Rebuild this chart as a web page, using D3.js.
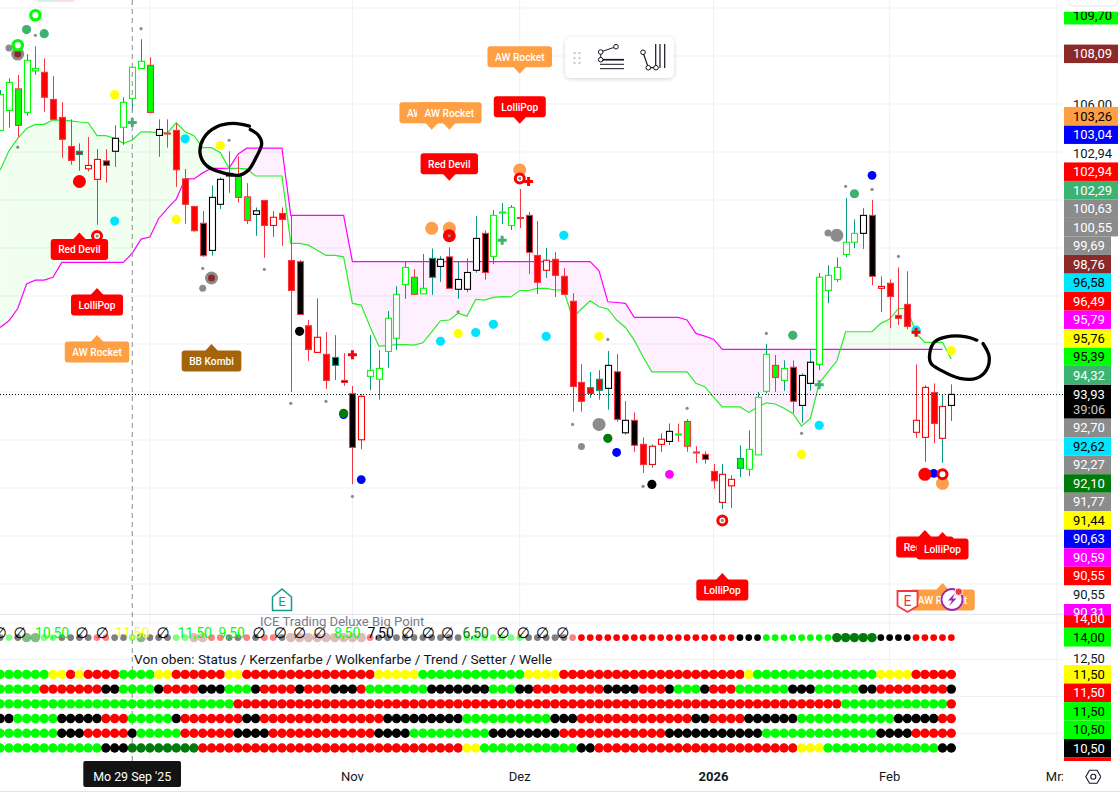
<!DOCTYPE html>
<html><head><meta charset="utf-8">
<script src="https://cdn.jsdelivr.net/npm/d3@7/dist/d3.min.js"></script>
<style>html,body{margin:0;padding:0;background:#fff}svg{display:block}text{font-family:Roboto,"Noto Sans",sans-serif}</style>
</head><body><div id="chart"></div>
<script>
// ---------- DATA ----------  bar number 0 = Mo 29 Sep '25, first visible bar = -15
const firstBar = -15;
const crosshairBar = 0;
// [high, body top, body bottom, low]
const candles = [
[106.58,106.40,104.90,104.90],[107.07,106.90,105.73,105.01],[107.21,106.63,105.11,104.63],[108.08,107.82,105.65,105.51],[108.41,107.48,107.38,107.22],
[107.90,107.32,106.28,105.68],[107.16,106.19,105.36,105.33],[106.08,105.44,104.53,103.76],[105.36,104.23,103.65,103.47],[104.36,104.03,103.90,103.22],
[104.62,103.44,103.30,103.19],[104.12,103.69,102.86,100.97],[104.12,103.63,103.44,102.72],[105.11,104.57,104.03,103.38],[106.28,106.07,105.03,104.30],
[107.53,107.53,106.23,105.71],[108.70,107.78,107.48,107.48],[107.95,107.61,105.65,105.61],[105.36,104.94,104.69,103.80],[105.36,104.79,104.76,104.18],
[105.19,104.90,103.26,102.55],[103.29,102.88,101.82,101.01],[101.73,101.73,100.72,100.68],[101.54,101.03,99.68,99.63],[102.61,102.11,99.90,99.68],
[102.94,102.86,101.82,101.63],[104.03,103.11,103.00,102.30],[103.82,103.00,102.11,101.89],[102.70,102.13,101.15,101.00],[101.69,101.55,101.40,100.51],
[101.98,101.98,100.94,99.59],[101.54,101.28,100.94,100.47],[101.69,101.44,101.19,100.09],[101.37,99.48,98.23,94.00],[99.50,99.43,97.23,97.20],
[97.00,96.76,95.77,95.30],[97.90,96.28,95.65,95.65],[96.50,95.57,94.48,94.13],[96.37,95.44,95.11,94.50],[95.62,94.48,94.40,94.26],
[94.25,93.93,91.69,90.16],[93.92,93.82,92.01,91.62],[96.37,94.90,94.65,94.08],[95.75,94.98,94.53,93.69],[97.37,97.07,95.69,95.01],
[98.41,98.07,96.24,95.75],[99.43,99.19,98.48,97.88],[99.12,98.78,98.07,98.07],[99.75,98.32,98.09,98.09],[99.98,99.57,98.78,98.05],
[99.66,99.53,99.23,98.59],[100.03,99.63,98.32,98.32],[99.43,98.69,98.28,97.88],[99.57,98.98,98.28,98.16],[101.33,100.40,99.07,98.97],
[100.73,100.61,98.98,98.68],[101.58,101.36,99.65,99.33],[101.87,101.50,101.47,101.00],[101.79,101.69,100.94,100.75],[102.46,101.27,101.25,100.83],
[101.50,101.36,99.82,98.91],[101.12,99.69,98.57,98.08],[100.00,99.49,99.07,98.75],[99.83,99.53,98.86,97.96],[99.16,98.82,98.07,98.07],
[98.12,97.78,94.23,93.18],[95.16,94.40,93.61,93.18],[94.83,94.18,93.94,93.76],[94.91,94.53,94.07,93.68],[95.71,95.11,94.15,93.26],
[95.58,94.84,92.86,92.76],[93.62,92.82,92.30,92.22],[93.15,92.82,91.78,91.51],[92.11,91.82,90.98,90.63],[91.82,91.74,90.98,90.84],
[92.28,92.03,91.82,91.50],[92.69,92.36,91.94,91.78],[92.68,92.25,92.22,91.93],[92.87,92.77,91.74,91.51],[91.74,91.50,91.47,91.04],
[91.53,91.40,91.19,91.01],[91.00,90.69,90.30,89.97],[91.00,90.57,89.40,89.13],[90.53,90.36,90.09,89.16],[91.78,91.23,90.82,90.46],
[92.40,91.61,90.78,90.50],[94.00,93.78,91.38,91.38],[96.00,95.57,94.03,93.94],[95.54,95.11,94.61,94.00],[95.32,94.98,94.48,94.05],
[95.32,95.03,93.61,93.12],[94.78,94.69,93.44,92.73],[95.75,95.24,94.36,94.05],[98.96,98.78,95.15,94.91],[99.28,98.86,98.23,97.70],
[99.61,99.19,98.69,98.58],[102.08,100.24,99.73,99.62],[101.19,100.61,100.24,100.00],[101.66,101.36,100.61,99.96],[102.00,101.36,98.82,98.45],
[98.82,98.40,98.32,97.33],[98.69,98.53,97.98,96.66],[99.19,97.19,97.07,96.79],[99.03,97.65,96.73,96.62],[95.15,92.82,92.32,92.09],
[94.28,94.19,92.11,91.09],[94.36,93.98,92.69,91.87],[93.90,93.40,92.07,91.05],[94.32,93.90,93.44,92.79]];
// fill / border / wick codes: W white, R red, L lime, K black, T teal
const candleColors = ("WLT WLT LRR WLT WLR RRR RRR RRR RRR RTT WRR WRT KRR WKT WLT WLT WLT LRR WKR RRR RRR RRR RRR KRR WKT WKT KKT LRR LRR WKT " +
"RRR WRT RRR RRR KRR RRR WRT RRR KTT KRR KRR WRT WLT WLT WLT WLT WLT LRR WLT KTT WKT KRR WKT WKT WKT KRR WLT LLT WLT RRR " +
"KRR RRR WRT RRR RRR RRR RRR RTT RTT WKT KRR WKR KRR RRR WRT WRT WKT LLR LRR RRR KRR RRR WRT WRR LTT WLT WLT WLT LRR WLT " +
"KRR WKT WKT WLT WLT WLT WLT WLT WKT KRR WRR RRR RRR RRR WRR WRT RRR WRT WKT").split(" ");

const cloudGreen = [103.25,104.05,104.57,104.98,105.15,105.15,105.33,105.33,105.30,105.25,105.22,104.68,104.68,104.57,104.36,104.50,104.84,104.84,104.80,104.80,
105.22,104.84,104.68,104.18,104.18,103.97,103.32,103.32,103.30,103.00,103.00,103.00,103.00,100.19,100.19,100.12,99.91,99.69,99.69,99.63,
97.69,97.62,96.72,95.91,95.93,95.98,95.97,95.95,96.05,96.51,96.97,97.00,97.28,97.16,97.86,97.83,97.94,97.97,97.96,98.23,
98.23,98.32,98.32,98.25,98.25,97.07,97.46,97.80,97.55,97.46,97.00,96.69,96.16,95.47,94.84,94.84,94.84,94.84,94.84,94.36,
94.22,93.79,93.38,93.38,93.38,93.15,93.37,93.55,93.50,93.32,93.11,92.58,92.90,94.36,94.84,95.29,96.51,96.51,96.51,96.51,
96.86,97.04,97.48,97.48,96.44,96.07,96.07,96.07,95.37];
const cloudMagenta = [96.69,96.97,97.48,98.50,98.66,98.66,98.78,99.40,99.40,99.40,99.40,99.40,99.40,99.40,99.40,99.78,100.37,100.46,101.23,101.65,
102.04,102.88,102.88,103.13,103.32,103.32,103.33,103.91,104.16,104.16,104.16,104.16,104.16,101.36,101.36,101.36,101.36,101.36,101.36,101.36,
99.43,99.43,99.43,99.43,99.43,99.43,99.43,99.43,99.43,99.43,99.43,99.43,99.43,99.43,99.43,99.43,99.43,99.43,99.43,99.43,
99.43,99.43,99.43,99.43,99.43,99.43,99.43,99.43,99.05,97.76,97.73,97.69,97.11,97.11,97.11,97.11,97.11,97.11,97.00,96.44,
96.33,96.20,95.78,95.78,95.78,95.78,95.78,95.78,95.78,95.78,95.78,95.78,95.78,95.78,95.78,95.78,95.78,95.78,95.78,95.78,
95.78,95.78,95.78,95.78,95.78,95.78,95.78,95.78];

const lastPrice = 93.93;
const priceGrid = [110,108,106,104,102,100,98,96,94,92,90,88,86];
const lowerGrid = [15,12.5,10,7.5];
const monthBars = [{bar:2,label:""},{bar:25,label:"Nov"},{bar:44,label:"Dez"},{bar:66,label:"2026",bold:true},{bar:86,label:"Feb"},{bar:105,label:"Mrz"}];

// Dot markers on the price pane: [bar, price]
const markYellow = [[-2,106.39],[10,104.27],[5,101.19],[37,96.44],[53,96.32],[76,91.40],[93,95.72]];
const markCyan = [[-2,101.12],[6,104.55],[35,96.11],[39,96.48],[41,96.82],[47,96.32],[49,100.53],[78,92.61],[89,96.58]];
const markSeaGreen = [[-12,109.10],[-10,108.93],[75,96.36],[82,102.26]];
const markDarkGreen = [[54,92.07],[24,93.11]];
const markBlue = [[24,93.06],[26,90.35],[55,91.48],[84,103.03],[91,90.61]];
const markBlack = [[19,96.53],[59,90.15]];
const markMagenta = [[61,90.57]];
const markRedBig = [[-6,102.77],[36,100.51],[90,90.57]];
const markOrange = [[34,100.82],[36,100.82],[44,103.25],[92,90.19]];
const markGrayBig = [[53,92.65],[80,100.53]];
const markGrayMid = [[-14,108.33],[8,98.32],[51,91.73],[79,100.62]];
const markGraySmall = [[-11,108.86],[-13,104.20],[1,109.14],[11,104.49],[8,99.15],[15,99.11],[18,93.53],[22,93.61],[25,89.65],[37,97.34],[54,96.19],[50,92.65],[58,90.07],[63,93.32],[72,96.44],[76,92.28],[81,102.57],[84,102.44],[87,99.65]];
const markLimeRing = [[-11,109.70],[-13,108.45]];
const markRedRing = [[-4,100.50],[44,102.90],[67,88.65],[92,90.57]];
const markRedRingCenter = [[-4,100.50],[44,102.90],[67,88.65],[36,100.51]];
const markBrownHalo = [[-13,108.08],[9,98.75]];
const crossRed = [[45,102.77],[25,95.55],[89,96.49]];
const crossGreen = [[0,105.23],[42,100.32],[78,94.30]];

// Tags: [text, bar, price of the tip, side, colour key]
const tags = [
["Red Devil",-6,100.65,"up","red"],["LolliPop",-4,98.33,"up","red"],["AW Rocket",-4,96.37,"up","orange"],["BB Kombi",9,96.00,"up","brown"],
["AW Rocket",44,107.26,"down","orange"],["LolliPop",44,105.18,"down","red"],["AW Rocket",34,104.93,"down","orange"],["AW Rocket",36,104.93,"down","orange"],
["Red Devil",36,102.80,"down","red"],["LolliPop",67,86.46,"up","red"],["Red Devil",90,88.25,"up","red"],["LolliPop",92,88.17,"up","red"],["AW Rocket",92,86.04,"up","orange"]];

// Lower pane: six rows of states, written as runs of colour code + count
const rowStatusTop = "K1 L1 K1 D2 L2 K4 R2 K2 L1 D1 K3 L2 B2 R2 K2 R1 K1 R2 K1 B9 R1 K10 L7 K5 R19 K3 L8 D5 K4 R5";
const rowValues = [11.5,10.5,9.5,8.5,7.5,6.5];
const rowRuns = [
"L6 Y2 R1 Y1 R4 L4 Y2 R6 Y2 R15 Y5 L12 Y4 R21 Y1 L14 Y4 R5",
"L5 R7 K2 L4 K1 R4 K3 L3 K1 R4 K1 R3 K3 R1 L7 K7 L3 K2 R8 K4 R3 K1 L3 K1 R3 L6 K3 L5 K2 R8 K1",
"L27 R69 L12 R1",
"K2 L5 K5 R3 L5 K1 R7 K2 R14 K9 L10 K3 R13 K2 R4 K6 L11 K5 R2",
"L7 K3 R5 K1 L5 R6 K4 R12 K4 L9 K8 R12 K11 L13 K4 R5",
"L12 K3 D8 R30 Y2 L11 K2 R23 Y3 L13 K2"];
const topRowFadeUntilBar = 50;
const topRowValue = 14;
// Texts sitting on the top row: [text, bar, colour key]
const topRowTexts = [["∅",-15,"K"],["∅",-12.75,"K"],["10,50",-9.1,"L"],["∅",-5.7,"K"],["∅",-3.4,"K"],["11,50",0,"Y"],["∅",3.5,"K"],["11,50",7.1,"L"],["9,50",11.3,"L"],
["∅",14.4,"K"],["∅",16.8,"K"],["∅",19,"K"],["∅",21.3,"K"],["8,50",24.4,"L"],["7,50",28.2,"K"],["∅",31.3,"K"],["∅",33.6,"K"],["∅",35.8,"K"],["6,50",39,"D"],["∅",42.1,"K"],["∅",44.4,"K"],["∅",46.6,"K"],["∅",48.9,"K"]];

// Price scale labels: [text, colour key]
const labelsAbove = [["94,32","sea"],["95,39","lime"],["95,76","yellow"],["95,79","magenta"],["96,49","red"],["96,58","cyan"],["98,76","brown2"],["99,69","gray"],["100,55","gray"],["100,63","gray"],["102,29","sea"],["102,94","red"],["102,94","plain"],["103,04","blue"],["103,26","orange"]];
const labelsBelow = [["92,70","gray"],["92,62","cyan"],["92,27","gray"],["92,10","dark"],["91,77","gray"],["91,44","yellow"],["90,63","blue"],["90,59","magenta"],["90,55","red"],["90,55","plain"],["90,31","magenta"]];
const labelsFree = [["109,70",109.70,"lime"],["108,09",108.09,"brown2"],["106,00",106,"plain"]];
const labelsLower = [["14,00","red"],["14,00","lime"],["12,50","plain"],["11,50","yellow"],["11,50","red"],["11,50","lime"],["10,50","lime"],["10,50","black"],["","red"]];
const countdown = "39:06";
const crossLabel = "Mo 29 Sep '25";
const legendRows = "Von oben: Status / Kerzenfarbe / Wolkenfarbe / Trend / Setter / Welle";
const indicatorName = "ICE Trading Deluxe Big Point";

// Freehand circles drawn on the chart: [bar, price]
const inkOne = [[13.3,105.08],[11.5,105.19],[9.6,105.05],[8.1,104.57],[7.7,103.94],[8.4,103.45],[9.95,103.17],[12.2,103.04],[13.2,103.25],[14.1,103.80],[14.7,104.36],[14.3,104.71],[13.4,104.94]];
const inkTwo = [[95.9,96.16],[94.7,96.30],[92.45,96.30],[91.1,96.09],[90.55,95.61],[90.7,95.19],[91.9,94.89],[93.95,94.57],[95.85,94.57],[97.0,94.92],[97.3,95.47],[96.6,96.02]];

// ---------- STYLE ----------
const W=1120,H=797,paneRight=1063,paneBottom=614,lowerBottom=761;
const C={W:"#fff",R:"#ff0000",L:"#00ff00",K:"#000",T:"#089981",Y:"#ffff00",D:"#007a0a",B:"#b97a75"};
const borderC={R:"#f23645",L:"#00e600",K:"#000",T:"#089981"};
const tagC={red:"#ff0000",orange:"#ff9f43",brown:"#a5640a"};
const labelC={sea:["#3cb371","#fff"],lime:["#00ff00","#000"],yellow:["#ffff00","#000"],magenta:["#ff00ff","#fff"],red:["#ff0000","#fff"],cyan:["#00e5ff","#000"],brown2:["#8c2a2a","#fff"],gray:["#8c8c8c","#fff"],plain:["#fff","#131722"],blue:["#0000ff","#fff"],orange:["#ff9f43","#000"],dark:["#007a0a","#fff"],black:["#000","#fff"]};

const x=d3.scaleLinear().domain([-15,93]).range([0.15,951.3]);
const y=d3.scaleLinear().domain([110,86]).range([8,584]);
const yLow=d3.scaleLinear().domain([14,6.5]).range([637.6,748]);
const barOf=i=>i+firstBar;

const svg=d3.select("#chart").append("svg").attr("width",W).attr("height",H);
const defs=svg.append("defs");
defs.append("clipPath").attr("id","pane").append("rect").attr("width",paneRight).attr("height",paneBottom);
defs.append("clipPath").attr("id","lowpane").append("rect").attr("y",paneBottom).attr("width",paneRight).attr("height",lowerBottom-paneBottom);
defs.append("clipPath").attr("id","timeaxis").append("rect").attr("y",lowerBottom).attr("width",paneRight).attr("height",30);

// grid
const grid=svg.append("g");
grid.selectAll(".h").data(priceGrid).join("line").attr("x1",0).attr("x2",paneRight).attr("y1",d=>y(d)).attr("y2",d=>y(d)).attr("stroke","#f0f1f4");
const yGridLow=yLow;
grid.selectAll(".l").data(lowerGrid).join("line").attr("x1",0).attr("x2",paneRight).attr("y1",d=>yGridLow(d)).attr("y2",d=>yGridLow(d)).attr("stroke","#f0f1f4");
grid.selectAll(".v").data(monthBars).join("line").attr("x1",d=>x(d.bar)).attr("x2",d=>x(d.bar)).attr("y1",0).attr("y2",lowerBottom).attr("stroke","#f0f1f4");
grid.append("line").attr("x1",0).attr("x2",paneRight).attr("y1",paneBottom+.3).attr("y2",paneBottom+.3).attr("stroke","#e0e3eb");
grid.append("line").attr("x1",0).attr("x2",W).attr("y1",791.5).attr("y2",791.5).attr("stroke","#e0e3eb");
grid.append("rect").attr("x",37).attr("y",-2).attr("width",18).attr("height",4).attr("fill","#d8f0ec");
grid.append("rect").attr("x",55).attr("y",-2).attr("width",19).attr("height",4).attr("fill","#fbdede");

// cloud
const main=svg.append("g").attr("clip-path","url(#pane)");
const iGreen=cloudGreen.map((v,i)=>({b:barOf(i),g:v,m:cloudMagenta[Math.min(i,cloudMagenta.length-1)]})).slice(0,cloudMagenta.length);
const areaBetween=d3.area().x(d=>x(d.b)).y0(d=>y(d.g)).y1(d=>y(d.m));
defs.append("clipPath").attr("id","aboveM").append("path").attr("d",d3.area().x(d=>x(d.b)).y0(-50).y1(d=>y(d.m))(iGreen));
defs.append("clipPath").attr("id","belowM").append("path").attr("d",d3.area().x(d=>x(d.b)).y0(d=>y(d.m)).y1(700)(iGreen));
main.append("path").attr("d",areaBetween(iGreen)).attr("fill","#00ff00").attr("fill-opacity",.06).attr("clip-path","url(#aboveM)");
main.append("path").attr("d",areaBetween(iGreen)).attr("fill","#ff00ff").attr("fill-opacity",.06).attr("clip-path","url(#belowM)");
const lineOf=a=>d3.line().x((d,i)=>x(barOf(i))).y(d=>y(d))(a);
main.append("path").attr("d",lineOf(cloudMagenta)).attr("fill","none").attr("stroke","#ff00ff").attr("stroke-width",1.2);
main.append("path").attr("d",lineOf(cloudGreen)).attr("fill","none").attr("stroke","#22f022").attr("stroke-width",1.2);

// crosshair and last-price line
svg.append("line").attr("x1",x(crosshairBar)).attr("x2",x(crosshairBar)).attr("y1",0).attr("y2",lowerBottom).attr("stroke","#8a8d96").attr("stroke-dasharray","5 4");
const lastY=Math.ceil(y(lastPrice))+.5;
svg.append("line").attr("x1",0).attr("x2",paneRight).attr("y1",lastY).attr("y2",lastY).attr("stroke","#000").attr("stroke-width",1).attr("stroke-dasharray","1 2").attr("shape-rendering","crispEdges");

// candles
const cs=main.append("g").selectAll("g").data(candles.map((c,i)=>({c,s:candleColors[i],b:barOf(i)}))).join("g");
cs.append("line").attr("x1",d=>Math.round(x(d.b))+.5).attr("x2",d=>Math.round(x(d.b))+.5).attr("y1",d=>y(d.c[0])).attr("y2",d=>y(d.c[3])).attr("stroke",d=>borderC[d.s[2]]).attr("stroke-width",1);
cs.append("rect").attr("x",d=>Math.round(x(d.b))-2.5).attr("width",6).attr("y",d=>y(d.c[1])).attr("height",d=>Math.max(1,y(d.c[2])-y(d.c[1])))
 .attr("fill",d=>C[d.s[0]]).attr("stroke",d=>d.s[1]==="L"?"#00ff00":d.s[1]==="R"&&d.s[0]==="W"?"#ff0000":borderC[d.s[1]]).attr("stroke-width",1.1);

// markers
function dots(data,r,fill,extra){const s=main.append("g").selectAll("circle").data(data).join("circle").attr("cx",d=>x(d[0])).attr("cy",d=>y(d[1])).attr("r",r).attr("fill",fill);if(extra)extra(s);return s;}
dots(markOrange,6.5,"#ff9f4d");
dots(markGrayBig,6.5,"#8c8c8c");
dots(markGrayMid,3.5,"#8c8c8c");
dots(markBrownHalo,6.5,"#8c8c8c");
dots(markBrownHalo,3.5,"#8c2a2a");
dots(markYellow,4.6,"#ffff00");
dots(markCyan,4.6,"#00e5ff");
dots(markSeaGreen,4.6,"#3cb371");
dots(markBlue,4.4,"#0000ff");
dots(markDarkGreen,4.6,"#007a0a");
dots(markBlack,4.6,"#000");
dots(markMagenta,4.4,"#ff00ff");
dots(markRedBig,6.5,"#ff0000");
dots(markLimeRing,4.7,"#fff",s=>s.attr("stroke","#00ff00").attr("stroke-width",3.2));
dots(markRedRing,4.5,"#fff",s=>s.attr("stroke","#ff0000").attr("stroke-width",3));
dots(markGraySmall.concat(markRedRingCenter),1.6,"#8c8c8c");
function crosses(data,col){main.append("g").selectAll("path").data(data).join("path").attr("d",d=>`M${x(d[0])-4.5},${y(d[1])}h9M${x(d[0])},${y(d[1])-4.5}v9`).attr("stroke",col).attr("stroke-width",3).attr("fill","none");}
crosses(crossRed,"#ff0000");crosses(crossGreen,"#3cb371");

// ink
const ink=d3.line().x(d=>x(d[0])).y(d=>y(d[1])).curve(d3.curveCatmullRom.alpha(.5));
[inkOne,inkTwo].forEach(a=>main.append("path").attr("d",ink(a)).attr("fill","none").attr("stroke","#000").attr("stroke-width",3.3).attr("stroke-linecap","round"));

// tags
const tg=main.append("g");
tags.forEach(t=>{
  const cx=x(t[1]),tip=y(t[2]),up=t[3]==="up",col=tagC[t[4]],h=21,a=6.5;
  const g=tg.append("g");
  const box=g.append("rect").attr("rx",3).attr("fill",col).attr("height",h).attr("y",up?tip+a:tip-a-h);
  g.append("path").attr("d",up?`M${cx},${tip}l${a},${a+.5}h${-2*a}z`:`M${cx},${tip}l${a},${-a-.5}h${-2*a}z`).attr("fill",col);
  const tx=g.append("text").attr("x",cx).attr("y",(up?tip+a+h/2:tip-a-h/2)+.5).attr("text-anchor","middle").attr("dominant-baseline","central").attr("fill","#fff").attr("font-size",10.2).attr("font-weight",500).text(t[0]);
  const w=tx.node().getComputedTextLength()+15;
  box.attr("x",cx-w/2).attr("width",w);
});

// badges
const badges=main.append("g");
badges.append("path").attr("d","M272.5,597 L282,589 L291.5,597 V610.5 H272.5 Z").attr("fill","#fff").attr("stroke","#159a8a").attr("stroke-width",1.5);
badges.append("text").attr("x",282).attr("y",605.5).attr("text-anchor","middle").attr("font-size",13).attr("fill","#159a8a").text("E");
badges.append("path").attr("d","M897.5,591 H917.5 V606 L907.5,612 L897.5,606 Z").attr("fill","#fff").attr("stroke","#f23645").attr("stroke-width",1.8);
badges.append("text").attr("x",907.5).attr("y",606).attr("text-anchor","middle").attr("font-size",14).attr("fill","#f23645").text("E");
badges.append("circle").attr("cx",952).attr("cy",599.5).attr("r",10.5).attr("fill","#fff").attr("stroke","#9c27b0").attr("stroke-width",1.8);
badges.append("path").attr("d","M955,593 L948,600.5 H952 L949,606 L956.5,598.5 H952.5 Z").attr("fill","#9c27b0");
badges.append("circle").attr("cx",958.7).attr("cy",591.7).attr("r",3.8).attr("fill","#f23645").attr("stroke","#fff");

// toolbar
const tb=svg.append("g");
defs.append("filter").attr("id","sh").attr("x","-20%").attr("y","-20%").attr("width","140%").attr("height","150%").append("feDropShadow").attr("dx",0).attr("dy",1).attr("stdDeviation",2).attr("flood-color","#000").attr("flood-opacity",.18);
tb.append("rect").attr("x",565).attr("y",37).attr("width",109).attr("height",41).attr("rx",6).attr("fill","#fff").attr("filter","url(#sh)");
[[573.5,52],[578.5,52],[573.5,57],[578.5,57],[573.5,62],[578.5,62]].forEach(p=>tb.append("rect").attr("x",p[0]).attr("y",p[1]).attr("width",2).attr("height",2).attr("fill","#c4c6cc"));
const ic="#131722";
tb.append("path").attr("d","M600.7,52L616,46.7M600.7,52V59.7M600,59.7H624M600,64.3H624M600,68.7H624").attr("stroke",ic).attr("fill","none");
tb.append("path").attr("d","M600,59.7H624").attr("stroke",ic).attr("stroke-width",1.6);
tb.append("path").attr("d","M643,52.3L648.3,67.7H656M655.7,44V67M660,44V68M664.7,44V68").attr("stroke",ic).attr("fill","none").attr("stroke-width",1.2);
[[600.7,52],[616,46.7],[600.7,59.7],[643,52.3],[648.3,67.7],[656,67.7]].forEach(p=>tb.append("circle").attr("cx",p[0]).attr("cy",p[1]).attr("r",2.3).attr("fill","#fff").attr("stroke",ic));

// lower pane
const low=svg.append("g").attr("clip-path","url(#lowpane)");
const expand=s=>s.split(" ").flatMap(t=>d3.range(+t.slice(1)).map(()=>t[0]));
const topSeq=expand(rowStatusTop);
low.append("g").selectAll("circle").data(topSeq.map((s,i)=>({s,b:barOf(i)}))).join("circle").attr("cx",d=>x(d.b)).attr("cy",yLow(topRowValue))
  .attr("r",d=>(d.s==="D"||d.s==="B")?4.7:3.4).attr("fill",d=>C[d.s]).attr("fill-opacity",d=>d.b<=topRowFadeUntilBar?.5:1);
low.selectAll(".tt").data(topRowTexts).join("text").attr("x",d=>x(d[1])).attr("y",yLow(topRowValue)-4.5).attr("text-anchor","middle").attr("dominant-baseline","central")
  .attr("font-size",d=>d[0]==="∅"?15:14).attr("fill",d=>C[d[2]]).style("font-family",d=>d[0]==="∅"?"DejaVu Sans":null).text(d=>d[0]);
rowRuns.forEach((r,ri)=>{
  low.append("g").selectAll("circle").data(expand(r).map((s,i)=>({s,b:barOf(i)}))).join("circle").attr("cx",d=>x(d.b)).attr("cy",yLow(rowValues[ri])).attr("r",4.7).attr("fill",d=>C[d.s]);
});
low.append("text").attr("x",134).attr("y",658.5).attr("dominant-baseline","central").attr("font-size",13.65).attr("fill","#131722").text(legendRows);
svg.append("text").attr("x",260).attr("y",621).attr("dominant-baseline","central").attr("font-size",13.1).attr("fill","#787b86").text(indicatorName);

// time axis
const tAxis=svg.append("g").attr("clip-path","url(#timeaxis)");
tAxis.selectAll("text").data(monthBars).join("text").attr("x",d=>x(d.bar)).attr("y",776.5).attr("text-anchor","middle").attr("dominant-baseline","central").attr("font-size",13)
  .attr("font-weight",d=>d.bold?700:400).attr("fill","#131722").text(d=>d.label);
svg.append("rect").attr("x",83.3).attr("y",761).attr("width",97.7).attr("height",26).attr("rx",2).attr("fill","#131313");
svg.append("text").attr("x",132.2).attr("y",776).attr("text-anchor","middle").attr("dominant-baseline","central").attr("font-size",12.4).attr("fill","#fff").text(crossLabel);

// price labels
const axisG=svg.append("g");
const step=18.5,labX=1064,labH=18.5;
function priceLabel(text,cy,key,clipTop,clipBottom){
  const [bg,fg]=labelC[key];
  const w=text.length>5?54:47;
  const t=clipTop==null?cy-labH/2:clipTop, b=clipBottom==null?cy+labH/2:clipBottom;
  if(key!=="plain")axisG.append("rect").attr("x",labX).attr("y",t).attr("width",w).attr("height",b-t).attr("fill",bg);
  if(text)axisG.append("text").attr("x",labX+9).attr("y",cy).attr("dominant-baseline","central").attr("font-size",13).attr("fill",fg).text(text);
}
labelsFree.forEach(l=>priceLabel(l[0],y(l[1]),l[2]));
labelsAbove.forEach((l,i)=>priceLabel(l[0],y(lastPrice)-step*(i+1),l[1]));
const nowY=y(lastPrice);
axisG.append("rect").attr("x",labX).attr("y",nowY-9).attr("width",47).attr("height",34).attr("fill","#000");
axisG.append("text").attr("x",labX+9).attr("y",nowY+.5).attr("dominant-baseline","central").attr("font-size",13).attr("fill","#fff").text(lastPrice.toFixed(2).replace(".",","));
axisG.append("text").attr("x",labX+9).attr("y",nowY+15.5).attr("dominant-baseline","central").attr("font-size",13).attr("fill","#c8c8c8").text(countdown);
labelsBelow.forEach((l,i)=>{const cy=nowY+34.3+step*i; if(i===labelsBelow.length-1)priceLabel(l[0],cy,l[1],cy-9,paneBottom+1); else priceLabel(l[0],cy,l[1]);});
labelsLower.forEach((l,i)=>{
  const slot=i-(labelsLower.length-2), cy=yLow(6.5)+step*slot+.3;
  if(i===0)priceLabel(l[0],cy,l[1],paneBottom+1,cy+9);
  else if(i===labelsLower.length-1)priceLabel(l[0],cy,l[1],cy-9.2,lowerBottom);
  else if(l[1]==="plain")priceLabel(l[0],yLow(12.5)-.9,l[1]);
  else priceLabel(l[0],cy,l[1]);
});
// top cover + settings icon
axisG.append("rect").attr("x",1062).attr("y",-1).attr("width",58).attr("height",12.7).attr("fill","#fff");
axisG.append("rect").attr("x",1068.5).attr("y",-6).attr("width",49).attr("height",12).attr("rx",4).attr("fill","#fff").attr("stroke","#e8e9ee");
axisG.append("path").attr("d",d3.range(7).map(i=>{const a=Math.PI/3*i;return (i?"L":"M")+(1093.3+7.5*Math.cos(a))+","+(776.7+7.5*Math.sin(a));}).join("")).attr("fill","none").attr("stroke","#131722").attr("stroke-width",1.1);
axisG.append("circle").attr("cx",1093.3).attr("cy",776.7).attr("r",2.5).attr("fill","none").attr("stroke","#131722").attr("stroke-width",1.1);
</script></body></html>
